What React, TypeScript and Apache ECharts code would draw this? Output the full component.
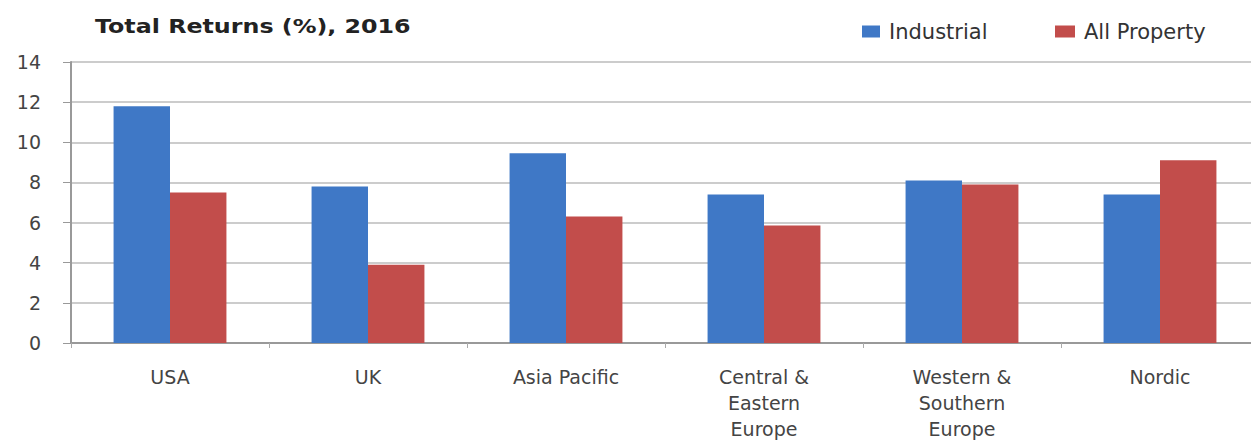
import React, { useEffect, useRef } from "react";
import * as echarts from "echarts";

const categories = ["USA", "UK", "Asia Pacific", "Central &\nEastern\nEurope", "Western &\nSouthern\nEurope", "Nordic"];
const industrial = [11.8, 7.8, 9.45, 7.4, 8.1, 7.4];
const allProperty = [7.5, 3.9, 6.3, 5.85, 7.9, 9.1];
const yTicks = [0, 2, 4, 6, 8, 10, 12, 14];
const titleText = "Total Returns (%), 2016";

export default function App() {
  const ref = useRef<HTMLDivElement>(null);
  useEffect(() => {
    if (!ref.current) return;
    const chart = echarts.init(ref.current, undefined, { renderer: "svg" });
    const font = "'DejaVu Sans', sans-serif";
    const legendText = { fontSize: 21, color: "#333", fontFamily: font, padding: [0, 0, 0, 4] };
    chart.setOption({
      animation: false,
      backgroundColor: "#ffffff",
      textStyle: { fontFamily: font },
      graphic: [
        {
          type: "text",
          left: 95,
          top: 17,
          scaleX: 1.25,
          style: { text: titleText, fontSize: 19, fontWeight: "bold", fill: "#222", fontFamily: font },
        },
      ],
      legend: [
        {
          left: 857,
          top: 16,
          itemWidth: 18,
          itemHeight: 12,
          icon: "rect",
          textStyle: legendText,
          data: ["Industrial"],
        },
        {
          left: 1050,
          top: 16,
          itemWidth: 20,
          itemHeight: 12,
          icon: "rect",
          textStyle: legendText,
          data: ["All Property"],
        },
      ],
      grid: { left: 71, right: -8, top: 62, bottom: 98, containLabel: false, outerBoundsMode: "none" },
      xAxis: {
        type: "category",
        data: categories,
        axisLine: { lineStyle: { color: "#999", width: 2 } },
        axisTick: { show: true, length: 5, lineStyle: { color: "#aaa" } },
        axisLabel: { fontSize: 19, color: "#444", lineHeight: 26, margin: 21, interval: 0, fontFamily: font },
      },
      yAxis: {
        type: "value",
        min: 0,
        max: 14,
        interval: 2,
        axisLine: { show: true, lineStyle: { color: "#999", width: 2 } },
        axisTick: { show: true, inside: false, length: 8, lineStyle: { color: "#999" } },
        axisLabel: {
          fontSize: 19,
          color: "#444",
          align: "right",
          margin: 30,
          fontFamily: font,
          formatter: (v: number) => (yTicks.includes(v) ? String(v) : ""),
        },
        splitLine: { show: true, lineStyle: { color: "#bbb", width: 1.5 } },
      },
      series: [
        {
          name: "Industrial",
          type: "bar",
          data: industrial,
          itemStyle: { color: "#3f78c6" },
          barGap: "0%",
          barCategoryGap: "43%",
        },
        {
          name: "All Property",
          type: "bar",
          data: allProperty,
          itemStyle: { color: "#c24d4b" },
          barGap: "0%",
          barCategoryGap: "43%",
        },
      ],
    });
    return () => chart.dispose();
  }, []);
  return <div ref={ref} style={{ position: "absolute", left: 0, top: 0, width: 1251, height: 441 }} />;
}
